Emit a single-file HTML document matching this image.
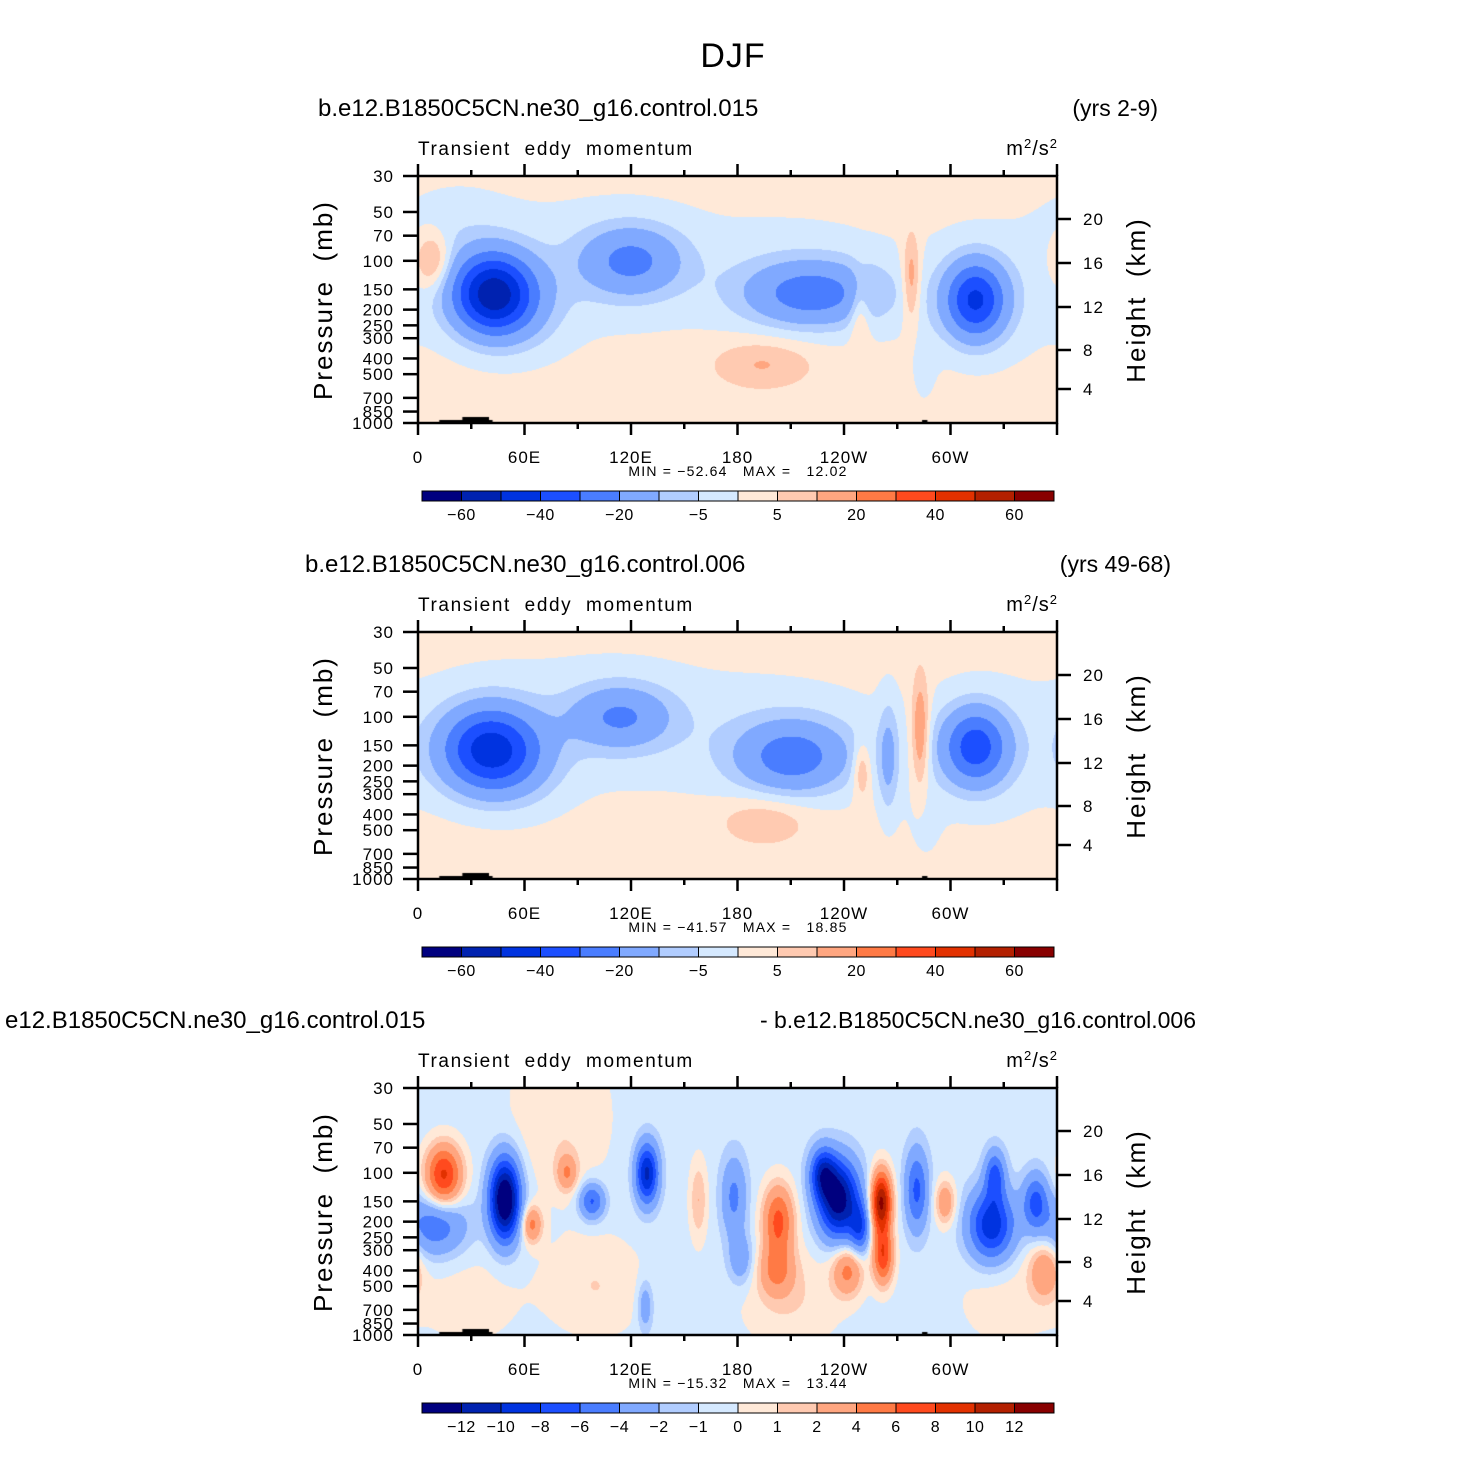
<!DOCTYPE html>
<html><head><meta charset="utf-8">
<style>
html,body{margin:0;padding:0;background:#fff;}
#wrap{position:relative;width:1467px;height:1463px;overflow:hidden;font-family:"Liberation Sans",sans-serif;}
canvas{position:absolute;}
svg{position:absolute;left:0;top:0;}
</style></head>
<body>
<div id="wrap">
<canvas id="c1" width="639" height="247" style="left:418px;top:176px"></canvas>
<canvas id="c2" width="639" height="247" style="left:418px;top:632px"></canvas>
<canvas id="c3" width="639" height="247" style="left:418px;top:1088px"></canvas>
<svg id="ov" width="1467" height="1463"></svg>
</div>
<script>
// ---- data ----
const colors = ["#00007f","#0022b0","#0033e0","#1c4fff","#4a7dff","#80a9ff","#b1cdff","#d5e9ff","#ffe9d8","#ffcab1","#ffa680","#ff7a45","#ff4a1e","#e23100","#b32000","#880000"];
const levelsMain = [-60,-50,-40,-30,-20,-10,-5,0,5,10,20,30,40,50,60];
const levelsDiff = [-12,-10,-8,-6,-4,-2,-1,0,1,2,4,6,8,10,12];
const pressureTicks = [30,50,70,100,150,200,250,300,400,500,700,850,1000];
const heightTicks = [20,16,12,8,4];
const lonTickLabels = ["0","60E","120E","180","120W","60W"];
const cbLabelsMain = ["−60","−40","−20","−5","5","20","40","60"];
const cbLabelsDiff = ["−12","−10","−8","−6","−4","−2","−1","0","1","2","4","6","8","10","12"];

// panel 1 features (lon deg, pressure mb, amplitude, lon width deg, ln-p width)
const p1Base = 2;
const p1Lon  = [90, 220, 320, 20, 8,  42, 120, 222, 314, 278, 249, 194, 60, 285];
const p1Pres = [110,130, 170, 60, 100,160,100, 160, 175, 130, 200, 430, 200, 450];
const p1Amp  = [-4, -4,  -4,  -3, 14, -54,-22, -24, -40, 14,  10,  9,  -6, -2.5];
const p1SLon = [70, 40,  30,  20, 7,  16, 20,  26,  12,  3.5, 4,   20, 18, 6];
const p1SLnp = [0.75,0.6,0.7, 0.4,0.28,0.4,0.35,0.32,0.38,0.45,0.35,0.25,0.45,0.5];

// panel 2 features
const p2Base = 2;
const p2Lon  = [90, 210, 320, 40, 114, 211, 314, 283, 265, 250, 195, 285, 60];
const p2Pres = [110,140, 170, 160,100, 178, 153, 125, 180, 213, 434, 450, 200];
const p2Amp  = [-4, -4,  -4,  -44,-20, -24, -34, 17,  -12, 12,  8,   -2.5, -5];
const p2SLon = [70, 45,  30,  19, 20,  22,  13,  3.5, 4,   3.5, 18,  8, 18];
const p2SLnp = [0.75,0.6,0.7, 0.42,0.32,0.36,0.38,0.55,0.55,0.28,0.25,0.5, 0.45];

// panel 3 (difference) features
const p3Base = -0.5;
const p3Lon  = [14.5,49,10,64,84,98,129,158,178,182,203,202,237,228,249,261,262,242,281,297,323,325,348,353,80,30,100,210,330,128];
const p3Pres = [104,146,211,208,100,150,101,147,141,344,197,400,146,101,220,152,324,400,128,152,211,104,152,400,45,600,500,600,600,660];
const p3Amp  = [9,-15,-5,5,4,-6,-10,2.5,-4,-3,7,4,-13,-8,-6,13,8,5,-6,4,-9,-6,-6,4,1.5,1,1.5,1.5,1,-3];
const p3SLon = [7,6,12,4,4,5,4.5,3.5,5,5,6,7,8,5,4,4,4,6,4.5,4,9,4,5,6,20,20,20,20,20,3];
const p3SLnp = [0.3,0.4,0.3,0.18,0.18,0.18,0.3,0.4,0.4,0.25,0.35,0.25,0.38,0.25,0.25,0.3,0.28,0.25,0.4,0.22,0.35,0.25,0.28,0.28,0.8,0.5,0.5,0.5,0.5,0.25];

// ---- axis functions ----
const PX=418, PW=639, PH=247;
const lnRange = Math.log(1000/30);
function yOfP(p){ return PH*Math.log(p/30)/lnRange; }
function pOfY(y){ return 30*Math.exp(y/PH*lnRange); }
function xOfLon(l){ return PW*l/360; }
function lonOfX(x){ return x/PW*360; }

function fieldAt(lon,p,base,L,P,A,SL,SP){
  let v=base, lp=Math.log(p);
  for(let i=0;i<L.length;i++){
    let d=Math.abs(lon-L[i]); if(d>180) d=360-d;
    const a=d/SL[i], b=(lp-Math.log(P[i]))/SP[i];
    v+=A[i]*Math.exp(-0.5*(a*a+b*b));
  }
  return v;
}
function hex(c){return [parseInt(c.substr(1,2),16),parseInt(c.substr(3,2),16),parseInt(c.substr(5,2),16)];}
const rgb = colors.map(hex);
function drawField(id,base,L,P,A,SL,SP,levels){
  const cv=document.getElementById(id), ctx=cv.getContext('2d');
  const img=ctx.createImageData(PW,PH);
  for(let y=0;y<PH;y++){
    const p=pOfY(y+0.5);
    for(let x=0;x<PW;x++){
      const v=fieldAt(lonOfX(x+0.5),p,base,L,P,A,SL,SP);
      let k=0; while(k<levels.length && v>=levels[k]) k++;
      const c=rgb[k], o=(y*PW+x)*4;
      img.data[o]=c[0];img.data[o+1]=c[1];img.data[o+2]=c[2];img.data[o+3]=255;
    }
  }
  ctx.putImageData(img,0,0);
  ctx.fillStyle="#000";
  ctx.fillRect(xOfLon(12),PH-3,xOfLon(30),3);
  ctx.fillRect(xOfLon(25),PH-6,xOfLon(15),6);
  ctx.fillRect(xOfLon(284),PH-3,xOfLon(3),3);
}
drawField('c1',p1Base,p1Lon,p1Pres,p1Amp,p1SLon,p1SLnp,levelsMain);
drawField('c2',p2Base,p2Lon,p2Pres,p2Amp,p2SLon,p2SLnp,levelsMain);
drawField('c3',p3Base,p3Lon,p3Pres,p3Amp,p3SLon,p3SLnp,levelsDiff);

// ---- overlay ----
const NS="http://www.w3.org/2000/svg";
const ov=document.getElementById('ov');
function mk(tag,attrs,parent){const e=document.createElementNS(NS,tag);for(const k in attrs)e.setAttribute(k,attrs[k]);(parent||ov).appendChild(e);return e;}
function txt(x,y,s,size,anchor,parent,extra){const t=mk('text',Object.assign({x:x,y:y,'font-size':size,'text-anchor':anchor||'start','font-family':'Liberation Sans, sans-serif',fill:'#000'},extra||{}),parent);t.textContent=s;return t;}

const title=txt(733,67,"DJF",34,'middle',null,{'letter-spacing':'1'});



const panels=[
 {top:176,left:"b.e12.B1850C5CN.ne30_g16.control.015",lx:318,right:"(yrs 2-9)",rx:1158,minmax:"MIN = −52.64   MAX =   12.02",labels:cbLabelsMain,diff:false},
 {top:632,left:"b.e12.B1850C5CN.ne30_g16.control.006",lx:305,right:"(yrs 49-68)",rx:1171,minmax:"MIN = −41.57   MAX =   18.85",labels:cbLabelsMain,diff:false},
 {top:1088,left:"e12.B1850C5CN.ne30_g16.control.015",lx:5,right:"- b.e12.B1850C5CN.ne30_g16.control.006",rx:1196,minmax:"MIN = −15.32   MAX =   13.44",labels:cbLabelsDiff,diff:true}
];
const heightOffsets=[43,87,131,174,213];
panels.forEach((pn,i)=>{
  const g=mk('g',{});
  
  
  const T=pn.top;
  const lt=txt(pn.lx,T-60,pn.left,24,'start',g);
  
  
  const rt=txt(pn.rx,T-60,pn.right,23,'end',g);
  
  
  const vt=txt(418,T-21,"Transient  eddy  momentum",19,'start',g,{'letter-spacing':'1.6',style:'white-space:pre'});
  
  
  const ut=mk('text',{x:1058,y:T-21,'font-size':20,'text-anchor':'end','font-family':'Liberation Sans, sans-serif','letter-spacing':'1'},g);
  ut.innerHTML='m<tspan dy="-7" font-size="13">2</tspan><tspan dy="7">/s</tspan><tspan dy="-7" font-size="13">2</tspan>';
  
  
  const fr=mk('rect',{x:PX,y:T,width:PW,height:PH,fill:'none',stroke:'#000','stroke-width':2.5},g);
  
  
  pressureTicks.forEach(p=>{
    const y=T+yOfP(p);
    mk('line',{x1:PX-15,x2:PX,y1:y,y2:y,stroke:'#000','stroke-width':2.5},g);
    const t=txt(PX-24,y+6,String(p),17,'end',g,{'letter-spacing':'1'});
    
    
  });
  heightTicks.forEach((h,k)=>{
    const y=T+heightOffsets[k];
    mk('line',{x1:PX+PW,x2:PX+PW+14,y1:y,y2:y,stroke:'#000','stroke-width':2.5},g);
    const t=txt(PX+PW+26,y+6,String(h),17,'start',g,{'letter-spacing':'1'});
    
    
  });
  for(let l=0;l<=360;l+=30){
    const x=PX+xOfLon(l), major=(l%60===0), len=major?12:6;
    mk('line',{x1:x,x2:x,y1:T,y2:T-len,stroke:'#000','stroke-width':2.5},g);
    mk('line',{x1:x,x2:x,y1:T+PH,y2:T+PH+len,stroke:'#000','stroke-width':2.5},g);
    if(major && l<360){
      const t=txt(x,T+PH+40,lonTickLabels[l/60],17,'middle',g,{'letter-spacing':'1'});
      
      
    }
  }
  const ya=txt(0,0,"Pressure  (mb)",26,'middle',g,{transform:`translate(332,${T+124}) rotate(-90)`,'letter-spacing':'2',style:'white-space:pre'});
  
  
  const ya2=txt(0,0,"Height  (km)",26,'middle',g,{transform:`translate(1145,${T+124}) rotate(-90)`,'letter-spacing':'2',style:'white-space:pre'});
  
  
  const mm=txt(738,T+300,pn.minmax,14,'middle',g,{'letter-spacing':'1.2',style:'white-space:pre'});
  
  
  const cb=mk('g',{},g);
  
  
  const cy=T+315, bw=(1054-422)/16;
  colors.forEach((c,k)=>{
    const r=mk('rect',{x:422+k*bw,y:cy,width:bw,height:10,fill:c,stroke:'#000','stroke-width':1},cb);
    
    
  });
  pn.labels.forEach((s,k)=>{
    const idx = pn.diff ? k+1 : 2*k+1;
    const t=txt(422+idx*bw,cy+29,s,16,'middle',cb,{'letter-spacing':'0.5'});
    
    
  });
});
</script>
</body></html>
